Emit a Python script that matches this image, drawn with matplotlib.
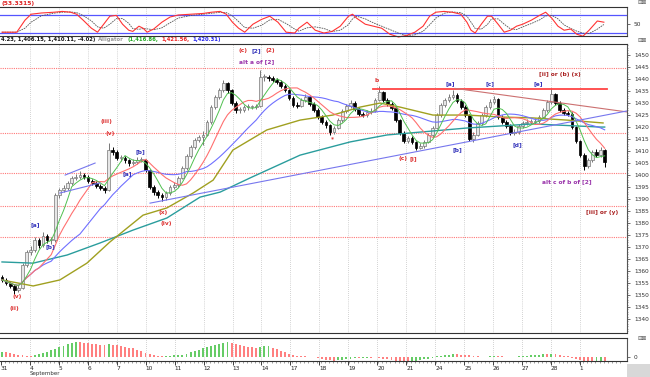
import numpy as np
import pandas as pd
import matplotlib
matplotlib.use("Agg")
import matplotlib.pyplot as plt
from matplotlib.patches import Rectangle

# ---------------- data ----------------
day_labels = ["31", "4", "5", "6", "7", "10", "11", "12", "13", "14", "17", "18",
              "19", "20", "21", "24", "25", "26", "27", "28", "1"]

closes = [
    1356.3, 1355.0, 1353.8, 1352.1, 1352.9, 1362.5, 1367.9, 1368.8, 1372.9, 1370.8,
    1374.6, 1372.9, 1372.9, 1391.7, 1393.8, 1394.6, 1396.7, 1398.8, 1399.2, 1400.0,
    1399.2, 1397.5, 1396.7, 1395.4, 1394.6, 1393.8, 1410.4, 1409.6, 1407.1, 1407.1,
    1406.3, 1405.0, 1405.4, 1406.3, 1406.3, 1402.1, 1395.0, 1392.9, 1391.7, 1390.8,
    1392.5, 1395.0, 1395.8, 1398.8, 1402.9, 1407.9, 1411.7, 1414.6, 1415.8, 1416.7,
    1422.1, 1428.3, 1432.5, 1435.4, 1438.3, 1435.4, 1430.0, 1427.1, 1427.1, 1428.3,
    1428.3, 1428.3, 1428.8, 1440.8, 1440.8, 1440.4, 1439.6, 1438.8, 1437.1, 1435.4,
    1432.1, 1429.2, 1428.8, 1431.3, 1432.5, 1429.6, 1427.1, 1424.2, 1422.1, 1420.8,
    1417.9, 1419.6, 1422.9, 1426.7, 1428.8, 1430.0, 1427.5, 1425.4, 1425.0, 1426.3,
    1426.7, 1431.3, 1434.6, 1431.3, 1429.6, 1427.9, 1422.9, 1417.5, 1414.2, 1415.4,
    1413.8, 1411.3, 1412.1, 1413.8, 1416.7, 1419.6, 1425.0, 1429.2, 1431.3, 1432.5,
    1433.3, 1430.8, 1428.3, 1425.0, 1415.0, 1416.7, 1421.7, 1425.0, 1428.3, 1430.4,
    1431.7, 1424.2, 1422.1, 1420.4, 1417.5, 1417.9, 1420.4, 1421.7, 1422.1, 1422.1,
    1422.5, 1424.2, 1427.1, 1430.4, 1433.8, 1430.0, 1427.1, 1425.8, 1425.4, 1420.0,
    1414.2, 1408.3, 1403.8, 1406.3, 1409.6, 1408.3, 1410.4, 1405.4]
first_open = 1357.5

highs = [
    1358.3, 1357.1, 1355.8, 1354.6, 1354.2, 1363.3, 1368.8, 1370.4, 1374.2, 1373.8,
    1376.3, 1375.4, 1374.2, 1392.5, 1394.6, 1395.8, 1397.5, 1399.6, 1400.4, 1401.7,
    1400.8, 1400.0, 1398.3, 1397.5, 1396.3, 1395.4, 1413.3, 1411.7, 1410.4, 1408.3,
    1407.9, 1406.7, 1406.7, 1407.5, 1407.5, 1406.7, 1402.5, 1395.8, 1393.8, 1392.5,
    1393.3, 1395.8, 1397.1, 1399.6, 1403.8, 1408.8, 1412.5, 1415.4, 1416.7, 1418.3,
    1422.9, 1429.2, 1433.3, 1436.3, 1439.6, 1438.8, 1435.8, 1430.8, 1428.3, 1429.2,
    1429.6, 1429.2, 1429.6, 1443.8, 1442.1, 1441.7, 1441.3, 1440.4, 1439.6, 1437.9,
    1435.8, 1432.9, 1430.4, 1432.1, 1433.8, 1433.3, 1430.4, 1427.9, 1425.0, 1422.9,
    1421.3, 1420.4, 1423.8, 1427.5, 1429.6, 1431.3, 1430.8, 1428.3, 1426.3, 1427.1,
    1427.9, 1432.1, 1437.1, 1435.0, 1432.1, 1430.4, 1428.3, 1423.3, 1418.3, 1416.3,
    1416.3, 1414.2, 1413.3, 1414.6, 1417.5, 1420.4, 1425.8, 1430.0, 1432.1, 1433.8,
    1435.4, 1434.2, 1431.7, 1429.2, 1425.4, 1417.9, 1422.5, 1425.8, 1429.2, 1431.7,
    1432.9, 1432.1, 1425.0, 1422.9, 1421.3, 1419.2, 1421.3, 1422.5, 1423.3, 1423.3,
    1423.8, 1425.0, 1427.9, 1431.3, 1436.3, 1434.2, 1430.8, 1427.9, 1426.7, 1426.3,
    1420.4, 1414.6, 1409.2, 1407.1, 1410.4, 1410.8, 1411.7, 1410.8]

lows = [
    1355.4, 1354.2, 1352.9, 1350.4, 1351.3, 1352.5, 1361.7, 1366.7, 1367.9, 1369.6,
    1370.0, 1371.7, 1371.3, 1372.1, 1390.4, 1392.9, 1393.8, 1395.8, 1397.9, 1398.3,
    1398.3, 1396.7, 1395.8, 1394.6, 1393.8, 1392.5, 1393.3, 1408.3, 1406.3, 1405.8,
    1405.0, 1403.8, 1404.2, 1404.6, 1405.4, 1401.3, 1394.2, 1391.7, 1390.4, 1389.2,
    1389.6, 1391.7, 1394.2, 1395.0, 1398.3, 1402.1, 1407.1, 1410.8, 1413.8, 1412.5,
    1416.3, 1421.3, 1427.5, 1431.7, 1434.6, 1434.2, 1429.2, 1425.8, 1425.8, 1426.3,
    1427.1, 1427.5, 1427.5, 1428.3, 1439.2, 1439.2, 1438.8, 1437.9, 1436.3, 1434.6,
    1431.3, 1428.3, 1427.9, 1428.3, 1430.4, 1428.8, 1426.3, 1423.3, 1421.3, 1419.6,
    1416.7, 1417.1, 1419.2, 1422.1, 1425.8, 1427.9, 1426.7, 1424.6, 1424.2, 1424.2,
    1425.4, 1426.3, 1430.8, 1430.4, 1428.8, 1427.1, 1422.1, 1416.7, 1413.3, 1413.3,
    1412.9, 1410.4, 1410.8, 1411.3, 1413.3, 1415.8, 1419.2, 1424.2, 1428.3, 1430.4,
    1431.7, 1430.0, 1427.5, 1424.2, 1414.2, 1413.8, 1416.3, 1420.8, 1424.2, 1427.5,
    1429.6, 1423.3, 1421.3, 1419.6, 1416.7, 1416.7, 1417.1, 1419.6, 1420.8, 1421.3,
    1421.3, 1421.7, 1423.8, 1426.3, 1429.6, 1429.2, 1426.3, 1425.0, 1424.6, 1419.2,
    1413.3, 1407.5, 1402.1, 1402.9, 1405.4, 1407.5, 1407.5, 1403.3]

hist = [
    15, 13, 11, 9, 7, 5, 4, 3, 6, 9,
    12, 15, 19, 23, 27, 31, 36, 40, 42, 41,
    40, 38, 37, 35, 34, 33, 35, 34, 32, 30,
    28, 26, 24, 20, 16, 12, 9, 6, 4, 2,
    3, 4, 5, 6, 7, 10, 13, 17, 20, 24,
    28, 31, 34, 37, 40, 41, 40, 37, 34, 31,
    29, 27, 25, 28, 30, 31, 26, 22, 18, 14,
    10, 6, 3, 2, 2, 1, 0, -3, -5, -7,
    -9, -10, -9, -7, -5, -4, -3, -3, -2, -1,
    -1, 0, -2, -4, -6, -8, -10, -11, -12, -12,
    -11, -10, -8, -6, -4, -2, 2, 4, 6, 7,
    8, 8, 7, 6, 5, 3, 2, 1, 1, 2,
    3, 3, 2, 1, 1, 1, 2, 3, 4, 5,
    6, 7, 8, 8, 9, 8, 6, 4, 2, -2,
    -5, -8, -10, -12, -12, -11, -10, -10]

# slow averages (bar index, price)
teal_x = [0, 7.6, 15.9, 23.9, 32.0, 40.2, 48.3, 53.2, 60.5, 72.7, 84.9, 93.9,
          102.0, 113.4, 129.5, 145.9, 147]
teal_y = [1363.8, 1363.3, 1366.7, 1371.7, 1377.1, 1382.1, 1390.8, 1392.9, 1398.8,
          1408.3, 1413.8, 1416.7, 1417.9, 1419.6, 1421.3, 1420.0, 1420.0]
olive_x = [0, 7.6, 14.1, 20.7, 26.3, 34.4, 40.2, 46.6, 51.5, 56.3, 64.6, 72.7,
           80.7, 87.3, 92.2, 97.1, 105.1, 113.4, 121.5, 129.5, 137.8, 146.6]
olive_y = [1356.3, 1353.8, 1356.3, 1363.3, 1372.1, 1383.3, 1386.3, 1392.5, 1397.9,
           1410.4, 1418.8, 1422.9, 1425.0, 1428.3, 1430.0, 1428.3, 1425.0, 1425.0,
           1424.2, 1423.8, 1422.9, 1421.7]

# oscillator (bar index, value)
osc_x = [0, 3.6, 5.6, 7.1, 9.6, 12.7, 14.7, 16.7, 18.2, 19.8, 21.8, 23.3, 24.8, 26.3,
         27.9, 29.4, 30.9, 31.9, 33.4, 34.4, 35.4, 37.0, 39.0, 41.0, 43.0, 46.1, 49.1,
         51.1, 53.2, 54.7, 56.2, 57.7, 59.2, 61.2, 63.3, 65.3, 67.3, 69.3, 71.4, 72.4,
         74.4, 76.4, 78.5, 80.5, 82.5, 84.5, 85.5, 86.5, 88.6, 90.6, 92.6, 94.6, 96.7,
         98.7, 100.7, 102.7, 104.3, 105.8, 107.8, 109.8, 111.9, 113.4, 114.4, 115.4,
         116.9, 118.4, 119.4, 121.0, 122.5, 124.0, 125.5, 127.0, 129.1, 131.1, 132.6,
         134.1, 135.6, 137.1, 138.7, 140.2, 141.7, 143.2, 145.2, 146.8]
osc_k = [22.7, 22.7, 62.7, 82.7, 86.7, 89.3, 92, 89.3, 82.7, 62.7, 36, 22.7, 49.3, 76,
         78.7, 49.3, 29.3, 25.3, 42.7, 36, 22.7, 33.3, 56, 73.3, 80, 82.7, 85.3, 89.3,
         92, 82.7, 56, 36, 22.7, 49.3, 65.3, 76, 56, 22.7, 20, 36, 56, 29.3, 20, 25.3,
         42.7, 76, 82.7, 69.3, 49.3, 42.7, 36, 16, 6.7, 12, 22.7, 42.7, 76, 89.3, 92,
         89.3, 82.7, 56, 29.3, 20, 49.3, 76, 76, 49.3, 22.7, 29.3, 42.7, 49.3, 62.7,
         78.7, 89.3, 69.3, 42.7, 29.3, 33.3, 16, 9.3, 29.3, 60, 56]

# drawn lines (bar index, price)
resist_x, resist_y = [90.5, 147.6], [1435.7, 1435.7]
down_x, down_y = [110.5, 152.4], [1436.1, 1426.3]
trend_x, trend_y = [36.1, 152.4], [1388.3, 1426.7]
chan_up_x, chan_up_y = [15.4, 22.7], [1400.0, 1405.0]
chan_lo_x, chan_lo_y = [14.1, 23.9], [1392.5, 1396.7]
fib_levels = [1444.8, 1417.6, 1400.9, 1387.2, 1374.2]

labels = [
    ("(v)", 3.7, 1349.2, "#dd3333"), ("(ii)", 2.9, 1344.2, "#dd3333"),
    ("[a]", 8.0, 1379.2, "#3333bb"), ("[b]", 11.7, 1370.0, "#3333bb"),
    ("(iii)", 25.4, 1422.5, "#dd3333"), ("(v)", 26.3, 1417.5, "#dd3333"),
    ("[a]", 30.5, 1400.8, "#3333bb"), ("[b]", 33.7, 1409.6, "#3333bb"),
    ("(x)", 39.3, 1384.6, "#dd3333"), ("(iv)", 40.0, 1380.0, "#dd3333"),
    ("(c)", 58.8, 1451.8, "#dd3333"), ("[2]", 62.0, 1451.8, "#3333bb"),
    ("(2)", 65.4, 1451.8, "#dd3333"), ("alt a of [2]", 62.2, 1447.2, "#9933aa"),
    ("*", 80.5, 1415.0, "#dd3333"), ("b", 91.4, 1439.6, "#dd3333"),
    ("(c)", 97.8, 1406.7, "#dd3333"), ("[i]", 100.2, 1406.7, "#dd3333"),
    ("[a]", 109.3, 1438.3, "#3333bb"), ("[b]", 111.0, 1410.4, "#3333bb"),
    ("[c]", 119.0, 1437.9, "#3333bb"), ("[d]", 125.6, 1412.5, "#3333bb"),
    ("[e]", 130.7, 1437.9, "#3333bb"), ("[ii] or (b) (x)", 136.0, 1441.7, "#aa2222"),
    ("alt c of b of [2]", 137.8, 1397.1, "#9933aa"), ("[iii] or (y)", 146.3, 1384.2, "#aa2222"),
]

# ---------------- layout ----------------
W, H = 650, 377
XMIN, XMAX = -0.49, 152.44
fig = plt.figure(figsize=(6.5, 3.77), dpi=100)
fig.patch.set_facecolor("white")
plt.rcParams["font.family"] = ["DejaVu Sans"]


def box(x0, y0, x1, y1):
    return [x0 / W, 1 - y1 / H, (x1 - x0) / W, (y1 - y0) / H]


idx = np.arange(len(closes))
c = np.array(closes)
o = np.r_[first_open, c[:-1]]
hi = np.array(highs)
lo = np.array(lows)
day_pos = np.arange(len(day_labels)) * 7.06 - 0.25


def style(a):
    a.set_xlim(XMIN, XMAX)
    a.set_facecolor("white")
    for s in ("top", "bottom"):
        a.spines[s].set_linestyle((0, (1, 1)))
        a.spines[s].set_color("#333333")
        a.spines[s].set_linewidth(0.8)
    a.spines["left"].set_visible(False)
    a.spines["right"].set_color("#555555")
    a.spines["right"].set_linewidth(0.8)
    a.yaxis.tick_right()
    a.tick_params(axis="y", labelsize=4.2, length=2, width=0.5, pad=3, colors="#333333")
    for d in day_pos[1:]:
        a.axvline(d, color="#aaaaaa", lw=0.5, ls=(0, (1, 2)), zorder=0)


# ---- oscillator ----
ax_o = fig.add_axes(box(0, 7, 627, 36))
style(ax_o)
ax_o.set_ylim(10, 106.7)
ax_o.set_xticks([])
ax_o.set_yticks([50])
ax_o.axhline(80, color="#5555ff", lw=0.9)
ax_o.axhline(20, color="#5555ff", lw=0.9)
slow = pd.Series(osc_k).rolling(3, min_periods=1).mean()
ax_o.plot(osc_x, slow, color="#555555", lw=0.6, ls=(0, (2, 1)), clip_on=False)
ax_o.plot(osc_x, osc_k, color="#ff3333", lw=0.8, clip_on=False)

# ---- main ----
ax = fig.add_axes(box(0, 44, 627, 333))
style(ax)
ax.set_ylim(1334.2, 1454.6)
ax.set_xticks([])
ax.set_yticks(np.arange(1340, 1451, 5))
ax.set_yticks(np.arange(1335, 1455, 1), minor=True)
ax.tick_params(axis="y", which="minor", length=1, width=0.4, colors="#555555")

for lv in fib_levels:
    ax.axhline(lv, color="#ff7777", lw=0.8, ls=(0, (1, 1)), zorder=1)

up = c >= o
ax.vlines(idx, lo, hi, colors=np.where(up, "#777777", "#000000"), lw=0.7, zorder=3)
bot = np.minimum(o, c)
ht = np.maximum(np.abs(c - o), 0.35)
ax.bar(idx[up], ht[up], bottom=bot[up], width=0.65, color="#e6e6e6",
       edgecolor="#777777", lw=0.5, zorder=3)
ax.bar(idx[~up], ht[~up], bottom=bot[~up], width=0.65, color="#000000",
       edgecolor="#000000", lw=0.5, zorder=3)

s = pd.Series(closes)
ax.plot(teal_x, teal_y, color="#2a9d9d", lw=1.0, zorder=4)
ax.plot(olive_x, olive_y, color="#a0a020", lw=1.0, zorder=4)
ax.plot(idx, s.rolling(20, min_periods=1).mean(), color="#7070ff", lw=0.8, zorder=4)
ax.plot(idx, s.rolling(10, min_periods=1).mean(), color="#ff7070", lw=0.8, zorder=4)
ax.plot(idx, s.rolling(5, min_periods=1).mean(), color="#50c050", lw=0.7, zorder=4)

ax.plot(resist_x, resist_y, color="#ff4444", lw=1.3, zorder=5)
ax.plot(down_x, down_y, color="#cc7070", lw=0.8, zorder=5)
ax.plot(trend_x, trend_y, color="#7777ee", lw=0.8, zorder=5)
ax.plot(chan_up_x, chan_up_y, color="#7777ee", lw=0.8, zorder=5)
ax.plot(chan_lo_x, chan_lo_y, color="#7777ee", lw=0.8, zorder=5)

for t, xb, yp, col in labels:
    ax.text(xb, yp, t, color=col, fontsize=4.2, fontweight="bold",
            ha="center", va="center", zorder=6)

# ---- histogram ----
ax_h = fig.add_axes(box(0, 338, 627, 361))
style(ax_h)
ax_h.set_ylim(-10.5, 52.5)
ax_h.set_yticks([0])
hv = np.array(hist, dtype=float)
rising = np.r_[True, np.diff(hv) > 0]
ax_h.bar(idx, hv, width=0.45, color=np.where(rising, "#66cc66", "#ff8080"), zorder=2)
ax_h.set_xticks(day_pos)
ax_h.set_xticklabels(day_labels)
ax_h.set_xticks(np.arange(0, 152, 1) - 0.25, minor=True)
ax_h.tick_params(axis="x", which="major", labelsize=4.2, length=3, width=0.6, pad=0.3,
                 colors="#222222")
ax_h.tick_params(axis="x", which="minor", length=1.5, width=0.4, colors="#555555")
for lab in ax_h.get_xticklabels():
    lab.set_ha("left")
ax_h.spines["bottom"].set_linestyle("-")

# ---- header texts ----
fig.text(1 / W, 1 - 3 / H, "(53.3315)", color="#dd2222", fontsize=4.3,
         fontweight="bold", va="center")
y_info = 1 - 40 / H
pieces = [("4.23, 1,406.15, 1,410.11, -4.02)", "#111111"),
          ("Alligator", "#999999"),
          ("(1,416.86,", "#22aa22"),
          ("1,421.56,", "#ee2222"),
          ("1,420.31)", "#2222ee")]
renderer = fig.canvas.get_renderer()
xcur = 1.0
for t, col in pieces:
    tx = fig.text(xcur / W, y_info, t, color=col, fontsize=3.8, fontweight="bold",
                  va="center")
    bb = tx.get_window_extent(renderer=renderer)
    xcur = bb.x1 + 3
fig.text(30 / W, 1 - 374 / H, "September", color="#333333", fontsize=4.0, va="center")

# right-hand decorations
fig.patches.append(Rectangle((627 / W, 0), 23 / W, 13 / H, transform=fig.transFigure,
                             facecolor="#d8d8d8", edgecolor="none"))
for yy in (3, 40, 338):
    fig.text(637 / W, 1 - yy / H, "\u229f\u22a0", color="#555555", fontsize=4.0, va="center")

fig.savefig("out.png", dpi=100)
